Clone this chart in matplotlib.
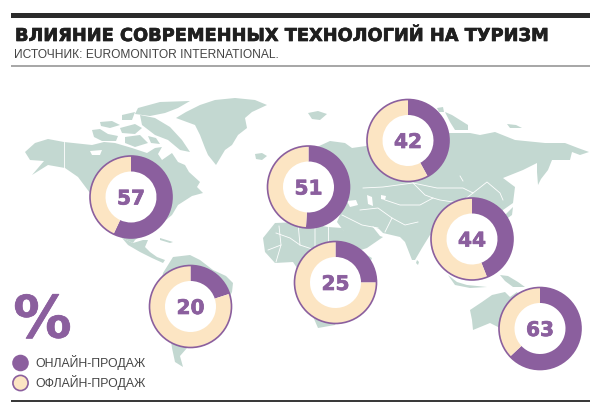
import matplotlib
matplotlib.use("Agg")
import matplotlib.pyplot as plt
import matplotlib.patheffects as pe
from matplotlib.patches import Circle, Polygon, Rectangle

# data
online_share = [57, 51, 42, 44, 25, 20, 63]
title = "ВЛИЯНИЕ СОВРЕМЕННЫХ ТЕХНОЛОГИЙ НА ТУРИЗМ"
source = "ИСТОЧНИК: EUROMONITOR INTERNATIONAL."
legend_labels = ["ОНЛАЙН-ПРОДАЖ", "ОФЛАЙН-ПРОДАЖ"]

# where each ring sits on the map, pixels from the top left
ring_x = [131, 308.5, 408, 472, 335.5, 190.5, 540]
ring_y = [197, 187, 140.5, 239, 282.5, 306.5, 328.5]

PURPLE = "#8b5f9e"
CREAM = "#fce5c3"
LAND = "#c3d8d1"
W, H = 600, 411

# rough map outlines, pixels from the top left
north_america = [(25,152),(35,143),(48,139),(64,142),(92,145),(104,142),(115,143),(132,148),(147,153),
    (155,148),(162,147),(158,154),(162,160),(172,153),(178,162),(185,165),(189,172),(200,182),(197,187),
    (203,193),(192,196),(178,205),(172,215),(160,225),(145,232),(135,240),(133,243),
    (122,238),(110,225),(95,205),(90,193),(78,177),(65,168),(48,165),(32,175),(44,161),(30,160)]
central_america = [(122,238),(133,243),(143,240),(148,240),(145,247),(150,252),(157,257),(165,260),(163,263),(152,258),(140,252),(128,245)]
south_america = [(163,273),(173,257),(190,255),(200,260),(213,270),(226,276),(233,283),(232,292),(222,312),(200,335),
    (187,348),(180,356),(183,367),(175,362),(172,348),(168,320),(160,290)]
greenland = [(176,118),(186,112),(200,105),(215,100),(235,98),(255,100),(267,105),(252,112),(245,118),(247,128),(238,135),
    (232,145),(225,150),(216,165),(208,155),(205,148),(200,135),(195,125)]
iceland = [(255,154),(262,153),(267,156),(262,160),(256,159)]
arctic_islands = [
    [(92,130),(100,129),(108,134),(118,136),(116,141),(102,141),(94,137)],
    [(100,122),(112,121),(120,125),(110,128),(101,126)],
    [(120,128),(135,124),(142,128),(135,134),(122,133)],
    [(140,115),(155,118),(170,127),(182,140),(190,152),(180,150),(168,140),(155,135),(142,125)],
    [(138,108),(160,102),(190,101),(178,108),(165,113),(150,116),(135,114)],
    [(122,115),(135,112),(132,120),(122,120)],
    [(125,137),(140,135),(148,143),(135,147),(125,143)],
    [(148,136),(156,138),(160,144),(151,143)],
]
eurasia = [(290,190),(300,165),(317,147),(330,141),(345,143),(352,148),(366,146),(420,130),(450,133),(470,133),(480,135),
    (495,132),(515,140),(545,143),(565,143),(578,148),(589,152),(580,155),(572,152),(570,160),(552,160),(548,170),(541,179),
    (538,185),(537,172),(537,163),(523,170),(503,178),(515,187),(513,203),(503,210),(500,222),(490,240),(475,265),(462,272),
    (452,262),(445,245),(430,235),(422,248),(415,260),(412,260),(405,242),(400,237),(383,233),(379,229),(372,226),(380,236),
    (383,237),(367,248),(352,253),(343,230),(337,222),(340,215),(318,220),(298,222),(280,215)]
africa = [(275,223),(300,222),(328,227),(342,228),(350,240),(358,250),(372,258),(365,275),(350,300),(335,325),(318,328),
    (308,305),(305,280),(293,262),(275,263),(265,252),(263,238)]
australia = [(470,310),(482,302),(492,295),(505,292),(510,297),(517,292),(530,310),(530,335),(515,340),(500,328),(490,323),(473,330),(472,320)]
small_islands = [
    [(500,275),(508,276),(518,282),(525,287),(513,287),(505,281)],
    [(448,275),(457,282),(467,285),(487,287),(470,288),(455,285)],
    [(513,207),(512,215),(505,220),(503,217),(508,212)],
    [(417,260),(419,262),(418,265),(416,263)],
    [(445,112),(452,115),(468,125),(468,130),(455,130),(450,122)],
    [(507,124),(516,125),(522,128),(510,128)],
    [(160,238),(173,242),(170,243),(160,240)],
    [(308,113),(318,111),(327,114),(320,120),(312,119)],
    [(437,108),(443,107),(444,112),(439,112)],
]
# seas cut out of the land
water = [
    [(347,201),(356,200),(358,205),(350,207)],
    [(367,195),(372,197),(373,206),(368,204)],
    [(381,195),(386,196),(385,200),(381,199)],
    [(90,151),(102,150),(100,155),(92,155)],
]
# country borders, only the ones that show
borders = [
    [(363,188),(383,187),(413,183),(437,188),(463,188),(473,193),(487,182),(500,193),(503,200)],
    [(413,183),(425,195),(433,198),(440,200),(460,203),(473,193)],
    [(385,200),(400,205),(420,205),(433,198)],
    [(360,210),(378,208),(392,218),(405,225),(418,222)],
    [(392,218),(385,232)],
    [(342,215),(362,225),(378,228)],
    [(276,233),(290,238),(300,245),(315,250)],
    [(279,226),(281,245),(276,262)],
    [(298,223),(300,245)],
    [(328,227),(328,245),(346,245)],
    [(315,227),(315,250),(310,262)],
    [(268,250),(281,245)],
    [(64,142),(64,170)],
    [(460,176),(463,181)],
]

fig = plt.figure(figsize=(W / 100, H / 100), dpi=100)
ax = fig.add_axes([0, 0, 1, 1])


def flip(points):
    # outlines are read top down, the axes run bottom up
    return [(x, H - y) for x, y in points]


def land(points, color=LAND):
    ax.add_patch(Polygon(flip(points), closed=True, facecolor=color, edgecolor="none", zorder=1))


for shape in [north_america, central_america, south_america, greenland, iceland, eurasia, africa, australia]:
    land(shape)
for shape in arctic_islands + small_islands:
    land(shape)
for shape in water:
    land(shape, "white")
for line in borders:
    xs, ys = zip(*flip(line))
    ax.plot(xs, ys, color="white", lw=0.6, zorder=2)

# heavier look for the display type
heavy = [pe.withStroke(linewidth=0.5, foreground=PURPLE)]

# the rings
for value, x, y in zip(online_share, ring_x, ring_y):
    center = (x, H - y)
    ax.add_patch(Circle(center, 41, facecolor="white", edgecolor="none", zorder=2.5))
    ax.pie([value, 100 - value], colors=[PURPLE, CREAM], startangle=90, counterclock=False,
           center=center, radius=41, frame=True, wedgeprops={"width": 15.5, "linewidth": 0, "zorder": 3})
    ax.add_patch(Circle(center, 41, facecolor="none", edgecolor=PURPLE, lw=1.2, zorder=4))
    ax.text(x, H - y, str(value), color=PURPLE, fontsize=14.5, fontweight="bold", family="DejaVu Sans",
            ha="center", va="center_baseline", zorder=5, path_effects=heavy)

ax.set_xlim(0, W)
ax.set_ylim(0, H)
ax.set_aspect("auto")
ax.axis("off")

# header and footer rules
ax.add_patch(Rectangle((11, H - 18.3), 579, 5, facecolor="#2b2b2b", edgecolor="none"))
ax.add_patch(Rectangle((11, H - 66.7), 579, 1.6, facecolor="#a8a8a8", edgecolor="none"))
ax.add_patch(Rectangle((11, H - 401.7), 579, 1.4, facecolor="#3a3a3a", edgecolor="none"))

ax.text(15, H - 41, title, fontsize=12.8, fontweight="bold", family="DejaVu Sans", color="#1f1f1f",
        va="baseline", ha="left", path_effects=[pe.withStroke(linewidth=0.5, foreground="#1f1f1f")])
ax.text(14, H - 58, source, fontsize=8.65, family="Liberation Sans", color="#444444", va="baseline", ha="left")

# legend
ax.text(42.5, H - 337.5, "%", fontsize=42, fontweight="bold", family="DejaVu Sans", color=PURPLE,
        ha="center", va="baseline", path_effects=heavy)
ax.add_patch(Circle((20.5, H - 363), 8.3, facecolor=PURPLE, edgecolor="none"))
ax.add_patch(Circle((20.5, H - 383), 7.6, facecolor=CREAM, edgecolor=PURPLE, lw=1.2))
ax.text(35, H - 367, legend_labels[0], fontsize=8.8, family="Liberation Sans", color="#444444", va="baseline")
ax.text(35, H - 387, legend_labels[1], fontsize=8.8, family="Liberation Sans", color="#444444", va="baseline")

fig.savefig("out.png", dpi=100)
